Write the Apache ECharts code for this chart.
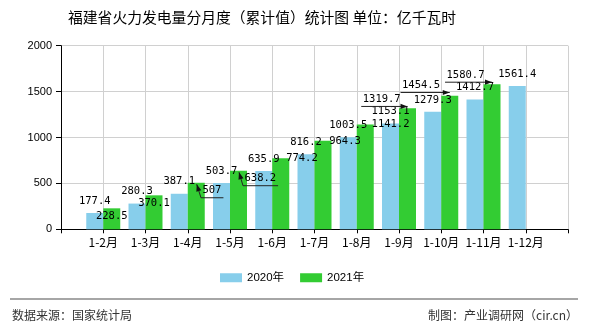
<!DOCTYPE html>
<html>
<head>
<meta charset="utf-8">
<script src="https://cdn.jsdelivr.net/npm/echarts@6/dist/echarts.min.js"></script>
<style>
  html, body { margin: 0; padding: 0; background: #fff; }
  #chart { width: 590px; height: 330px; }
</style>
</head>
<body>
<div id="chart"></div>
<script>
// Cumulative thermal power generation, Fujian province (100 million kWh)
const categories = ['1-2月', '1-3月', '1-4月', '1-5月', '1-6月', '1-7月', '1-8月', '1-9月', '1-10月', '1-11月', '1-12月'];
const values2020 = [177.4, 280.3, 387.1, 503.7, 635.9, 816.2, 1003.5, 1153.1, 1279.3, 1412.7, 1561.4];
const values2021 = [228.5, 370.1, 507, 638.2, 774.2, 964.3, 1141.2, 1319.7, 1454.5, 1580.7];
const seriesNames = ['2020年', '2021年'];
const yMin = 0, yMax = 2000, yStep = 500;

const titleText = '福建省火力发电量分月度（累计值）统计图 单位：亿千瓦时';
const sourceText = '数据来源：国家统计局';
const creditText = '制图：产业调研网（cir.cn）';

// styling
const BLUE = '#87ceeb';
const GREEN = '#33cc33';
const BAR_W = 17;
const LABEL_FONT = 'DejaVu Sans Mono';
const LABEL_SIZE = 10.5;
const LABEL_LH = 12;
const INSIDE_DIST = 2;

// nudges for the 2021 value labels (by month index) and the guide style drawn to the bar top
const greenLabelNudge = {
  2: { dx: 15.7, dy: 0, guide: 'under' },
  3: { dx: 21.8, dy: 0, guide: 'under' },
  4: { dx: 21.2, dy: -8.3 },
  5: { dx: 22, dy: -8 },
  6: { dx: 25.3, dy: -8.7 },
  7: { dx: -25.8, dy: -16.7, guide: 'side' },
  8: { dx: -28.75, dy: -18.3, guide: 'side' },
  9: { dx: -26.5, dy: -17, guide: 'side' }
};

// category axis with an empty slot at each end so bar pairs sit on the ticks
const axisCats = [''].concat(categories, ['']);
function padSeries(arr, itemFn) {
  const out = ['-'];
  for (let i = 0; i < axisCats.length - 2; i++) {
    out.push(i < arr.length ? itemFn(arr[i], i) : '-');
  }
  out.push('-');
  return out;
}

const data2020 = padSeries(values2020, v => v);
const data2021 = padSeries(values2021, (v, i) => {
  const n = greenLabelNudge[i];
  return n ? { value: v, label: { offset: [n.dx, n.dy] } } : v;
});

const labelBase = {
  show: true,
  color: '#000',
  fontFamily: LABEL_FONT,
  fontSize: LABEL_SIZE,
  lineHeight: LABEL_LH,
  formatter: p => String(p.value)
};

const chart = echarts.init(document.getElementById('chart'), null, { renderer: 'canvas' });

chart.setOption({
  animation: false,
  backgroundColor: '#fff',
  title: {
    text: titleText,
    left: 68,
    top: 9,
    padding: 0,
    textStyle: { fontFamily: 'Noto Sans CJK SC', fontSize: 14.8, fontWeight: 'normal', color: '#000', lineHeight: 16 }
  },
  legend: {
    data: seriesNames,
    left: 220,
    top: 272,
    padding: 0,
    itemWidth: 22,
    itemHeight: 9,
    itemGap: 16,
    icon: 'rect',
    textStyle: { fontFamily: 'Liberation Sans, Noto Sans CJK SC', fontSize: 11.5, color: '#000', padding: [0, 0, 0, 0] }
  },
  grid: { left: 61, right: 22, top: 45.7, bottom: 100.7, containLabel: false },
  xAxis: {
    type: 'category',
    data: axisCats,
    boundaryGap: false,
    axisLine: { lineStyle: { color: '#000', width: 1 } },
    axisTick: { show: true, interval: 0, length: 4, lineStyle: { color: '#000' } },
    axisLabel: { interval: 0, margin: 7, color: '#000', fontFamily: 'Noto Sans CJK SC', fontSize: 12 },
    splitLine: { show: true, interval: 0, lineStyle: { color: '#d0d0d0', width: 1 } }
  },
  yAxis: {
    type: 'value',
    min: yMin,
    max: yMax,
    interval: yStep,
    axisLine: { show: true, lineStyle: { color: '#000', width: 1 } },
    axisTick: { show: true, length: 5, lineStyle: { color: '#000' } },
    axisLabel: { margin: 9, color: '#000', fontFamily: 'Liberation Sans', fontSize: 11, formatter: v => String(v) },
    splitLine: { show: true, lineStyle: { color: '#d0d0d0', width: 1 } }
  },
  series: [
    {
      name: seriesNames[0],
      type: 'bar',
      data: data2020,
      barWidth: BAR_W,
      barGap: '0%',
      itemStyle: { color: BLUE },
      label: Object.assign({ position: 'top', distance: 6 }, labelBase)
    },
    {
      name: seriesNames[1],
      type: 'bar',
      data: data2021,
      barWidth: BAR_W,
      barGap: '0%',
      itemStyle: { color: GREEN },
      label: Object.assign({ position: 'insideTop', distance: INSIDE_DIST }, labelBase)
    }
  ]
});

// measure value-label widths for the guide lines
const measureCtx = document.createElement('canvas').getContext('2d');
measureCtx.font = LABEL_SIZE + 'px ' + LABEL_FONT;

function arrowHead(tx, ty, fx, fy) {
  const len = Math.hypot(tx - fx, ty - fy) || 1;
  const ux = (tx - fx) / len, uy = (ty - fy) / len;
  const bx = tx - ux * 7, by = ty - uy * 7;
  const nx = -uy, ny = ux;
  return {
    type: 'polygon',
    silent: true,
    z: 20,
    shape: { points: [[tx, ty], [bx + nx * 2.6, by + ny * 2.6], [bx - nx * 2.6, by - ny * 2.6]] },
    style: { fill: '#111' }
  };
}

const graphics = [];
Object.keys(greenLabelNudge).forEach(key => {
  const i = +key;
  const n = greenLabelNudge[i];
  if (!n.guide) return;
  const pt = chart.convertToPixel({ xAxisIndex: 0, yAxisIndex: 0 }, [i + 1, values2021[i]]);
  const gx = pt[0] + BAR_W / 2;   // centre of the 2021 bar
  const gt = pt[1];               // top of the 2021 bar
  const w = measureCtx.measureText(String(values2021[i])).width;
  const lcx = gx + n.dx;
  const lcy = gt + INSIDE_DIST + LABEL_LH / 2 + n.dy;
  const L = lcx - w / 2 - 1.5, R = lcx + w / 2 + 2;
  const uy = lcy + 7;
  let pts, tip, from;
  if (n.guide === 'under') {
    tip = [gx + 0.5, gt + 1.5];
    from = [L, uy];
    pts = [[R, uy], [L, uy], tip];
  } else {
    tip = [gx, uy];
    from = [L, uy];
    pts = [[L, uy], tip];
  }
  graphics.push({
    type: 'polyline',
    silent: true,
    z: 19,
    shape: { points: pts },
    style: { stroke: '#222', lineWidth: 1, fill: null }
  });
  graphics.push(arrowHead(tip[0], tip[1], from[0], from[1]));
});

// footer rule and source notes
graphics.push({
  type: 'line',
  silent: true,
  shape: { x1: 10, y1: 299, x2: 578, y2: 299 },
  style: { stroke: '#888', lineWidth: 1.5 }
});
graphics.push({
  type: 'text',
  silent: true,
  left: 12,
  top: 309,
  style: { text: sourceText, fill: '#333', font: '12px "Noto Sans CJK SC"' }
});
graphics.push({
  type: 'text',
  silent: true,
  right: 12,
  top: 309,
  style: { text: creditText, fill: '#333', font: '12px "Noto Sans CJK SC"' }
});

chart.setOption({ graphic: graphics });
</script>
</body>
</html>
